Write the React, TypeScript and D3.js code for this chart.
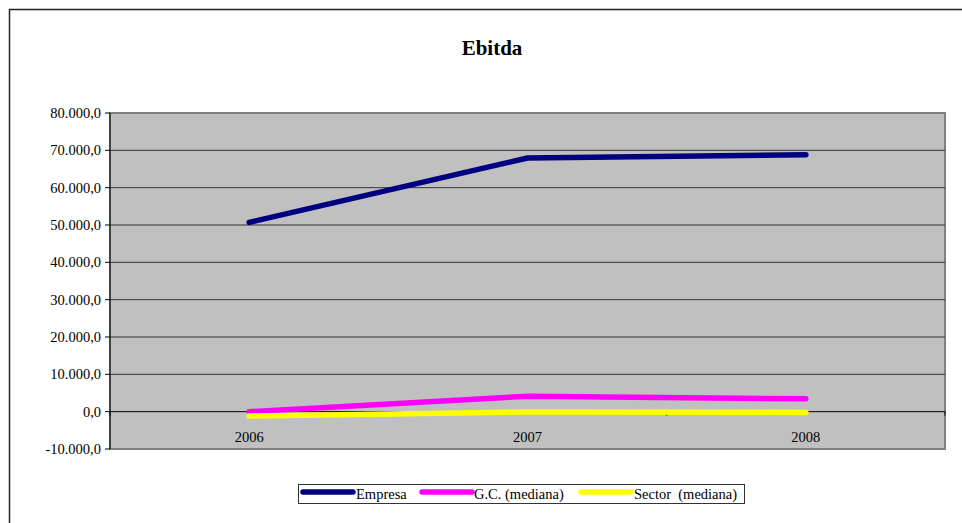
import React from "react";
import * as d3 from "d3";

const categories = ["2006", "2007", "2008"];
const seriesNames = ["Empresa", "G.C. (mediana)", "Sector\u00a0 (mediana)"];
const empresa = [50700, 67950, 68850];
const gc = [0, 4150, 3450];
const sector = [-1150, -100, -200];
const seriesColors = ["#000080", "#FF00FF", "#FFFF00"];
const yTicks = [-10000, 0, 10000, 20000, 30000, 40000, 50000, 60000, 70000, 80000];

const fmt = (v: number) => {
  const s = d3.format(",.1f")(v);
  return s.replace(/,/g, "X").replace(/\./g, ",").replace(/X/g, ".").replace("−", "-");
};

export default function App() {
  const W = 962, H = 523;
  const left = 110, right = 945, top = 113, bottom = 449;
  const x = d3.scaleBand().domain(categories).range([left, right]).padding(0);
  const y = d3.scaleLinear().domain([-10000, 80000]).range([bottom, top]);
  const line = d3.line<number>()
    .x((_, i) => (x(categories[i]) as number) + x.bandwidth() / 2)
    .y((d) => y(d));
  const all = [empresa, gc, sector];
  const font = "Liberation Serif, Times New Roman, serif";
  const legendItems = [
    { x: 301, tx: 356 },
    { x: 420, tx: 474 },
    { x: 579, tx: 634 },
  ];
  return (
    <svg width={W} height={H} style={{ position: "absolute", left: 0, top: 0, fontFamily: font }}>
      <rect x={0} y={0} width={W} height={H} fill="#fff" />
      <rect x={9.5} y={9.5} width={W + 10} height={H + 10} fill="none" stroke="#222" strokeWidth={1.5} />
      <text x={492} y={55} textAnchor="middle" fontSize={21} fontWeight="bold">Ebitda</text>
      <rect x={left} y={top} width={right - left} height={bottom - top} fill="#C0C0C0" stroke="#808080" strokeWidth={2} />
      {yTicks.map((t) => (
        <g key={t}>
          {t !== -10000 && t !== 80000 && (
            <line x1={left} x2={right} y1={y(t)} y2={y(t)} stroke={t === 0 ? "#000" : "#333"} strokeWidth={1} />
          )}
          <line x1={left - 5} x2={left} y1={y(t)} y2={y(t)} stroke="#000" />
          <text x={101} y={y(t) + 5} textAnchor="end" fontSize={14.5}>{fmt(t)}</text>
        </g>
      ))}
      <line x1={left} x2={left} y1={top} y2={bottom} stroke="#000" />
      {[...categories.map((c) => x(c) as number), right].map((bx, i) => (
        <line key={i} x1={bx} x2={bx} y1={y(0)} y2={y(0) + 4} stroke="#000" />
      ))}
      {categories.map((c) => (
        <text key={c} x={(x(c) as number) + x.bandwidth() / 2} y={y(0) + 30} textAnchor="middle" fontSize={14.5}>{c}</text>
      ))}
      {all.map((s, i) => (
        <path key={i} d={line(s) as string} fill="none" stroke={seriesColors[i]} strokeWidth={5.5} strokeLinecap="round" strokeLinejoin="round" />
      ))}
      <rect x={298.5} y={484.5} width={446} height={19} fill="#fff" stroke="#333" strokeWidth={1} />
      {legendItems.map((it, i) => (
        <g key={i}>
          <line x1={it.x + 2} x2={it.x + 52} y1={492} y2={492} stroke={seriesColors[i]} strokeWidth={5.5} strokeLinecap="round" />
          <text x={it.tx} y={499} fontSize={14.5}>{seriesNames[i]}</text>
        </g>
      ))}
    </svg>
  );
}
